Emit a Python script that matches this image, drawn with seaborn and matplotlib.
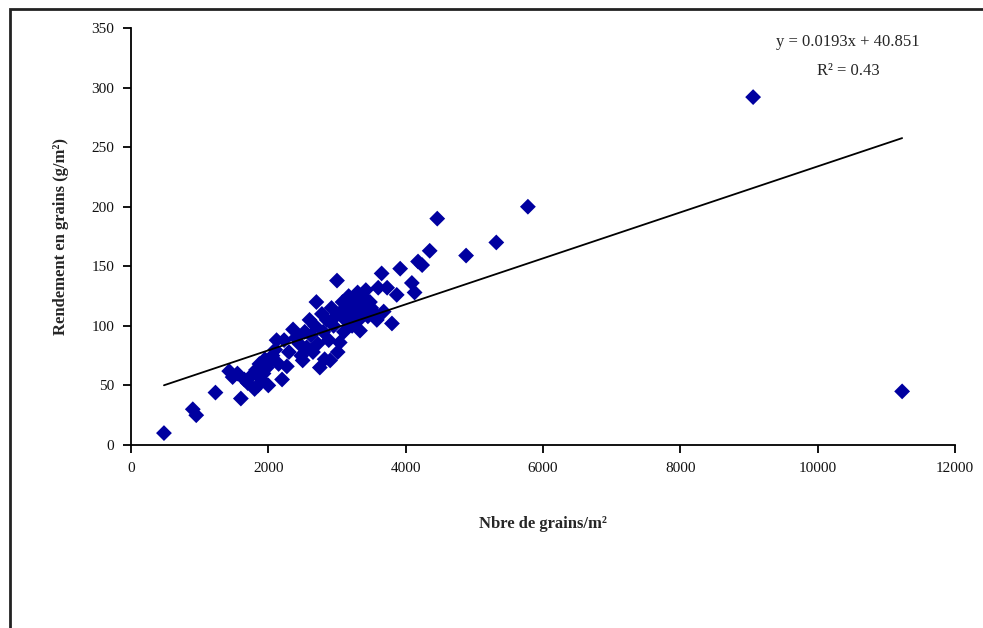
import matplotlib
matplotlib.use("Agg")
import matplotlib.pyplot as plt
import seaborn as sns
import pandas as pd
import numpy as np
from matplotlib.patches import Rectangle

# Data
grains_m2 = [480, 900, 950, 1230, 1600, 1430, 1480, 1550, 1650, 1700, 1750, 1800, 1820, 1850,
             1870, 1900, 1930, 1950, 1980, 2000, 2030, 2060, 2100, 2120, 2150, 2200, 2230, 2270,
             2300, 2360, 2400, 2450, 2480, 2500, 2530, 2560, 2600, 2620, 2650, 2680, 2700, 2720,
             2750, 2780, 2800, 2820, 2850, 2880, 2900, 2920, 2950, 2980, 3000, 3010, 3040, 3060,
             3080, 3100, 3120, 3150, 3170, 3200, 3220, 3250, 3280, 3300, 3320, 3335, 3360, 3380,
             3400, 3420, 3450, 3480, 3500, 3550, 3580, 3600, 3650, 3680, 3730, 3800, 3870, 3920,
             4090, 4130, 4180, 4240, 4350, 4460, 4880, 5320, 5780, 9060, 11230]
rendement = [10, 30, 25, 44, 39, 62, 57, 60, 55, 52, 58, 47, 63, 50,
             68, 55, 60, 72, 65, 50, 70, 75, 80, 88, 68, 55, 88, 66,
             78, 97, 90, 85, 75, 71, 95, 82, 105, 92, 78, 100, 120, 85,
             65, 110, 95, 72, 105, 88, 71, 115, 100, 108, 138, 78, 86, 112,
             120, 95, 105, 118, 125, 110, 100, 122, 115, 128, 105, 96, 118, 125,
             112, 130, 108, 120, 115, 110, 105, 132, 144, 112, 132, 102, 126, 148,
             136, 128, 154, 151, 163, 190, 159, 170, 200, 292, 45]
slope = 0.0193
intercept = 40.851
x_ticks = [0, 2000, 4000, 6000, 8000, 10000, 12000]
y_ticks = [0, 50, 100, 150, 200, 250, 300, 350]
equation_text = "y = 0.0193x + 40.851"
r2_text = "R² = 0.43"
x_label = "Nbre de grains/m²"
y_label = "Rendement en grains (g/m²)"

df = pd.DataFrame({"x": grains_m2, "y": rendement})
xmin, xmax = min(grains_m2), max(grains_m2)
trend = pd.DataFrame({"x": [xmin, xmax], "y": [slope * xmin + intercept, slope * xmax + intercept]})

sns.set_style("white")
plt.rcParams['font.family'] = ['Liberation Serif', 'DejaVu Serif']

fig = plt.figure(figsize=(9.83, 6.28), dpi=100)
ax = fig.add_axes([131/983, 1-445/628, (955-131)/983, (445-28)/628])

sns.scatterplot(data=df, x="x", y="y", marker="D", color="#0000A0", edgecolor="none",
                s=65, ax=ax, zorder=3)
sns.lineplot(data=trend, x="x", y="y", color="black", linewidth=1.3, ax=ax, zorder=4)

ax.set_xlim(0, 12000)
ax.set_ylim(0, 350)
ax.set_xticks(x_ticks)
ax.set_yticks(y_ticks)
ax.set_xticklabels([str(v) for v in x_ticks], fontsize=11)
ax.set_yticklabels([str(v) for v in y_ticks], fontsize=11)
ax.tick_params(axis="both", direction="out", length=6, width=1.3, color="black", pad=6,
               labelcolor="#111111")
ax.xaxis.set_ticks_position("bottom")
ax.yaxis.set_ticks_position("left")
for side in ["top", "right"]:
    ax.spines[side].set_visible(False)
for side in ["left", "bottom"]:
    ax.spines[side].set_color("black")
    ax.spines[side].set_linewidth(1.3)

ax.set_xlabel(x_label, fontsize=12, fontweight="bold", labelpad=30)
ax.set_ylabel(y_label, fontsize=12, fontweight="bold", labelpad=16)

fig.text(848/983, 1-42/628, equation_text, ha="center", va="center", fontsize=12)
fig.text(848/983, 1-71/628, r2_text, ha="center", va="center", fontsize=12)

# outer frame (cropped at right/bottom)
fig.patches.append(Rectangle((10/983, -0.2), 1.2, 1.2 - 9/628, transform=fig.transFigure,
                             fill=False, edgecolor="#222222", linewidth=2))

fig.savefig("out.png", dpi=100)
